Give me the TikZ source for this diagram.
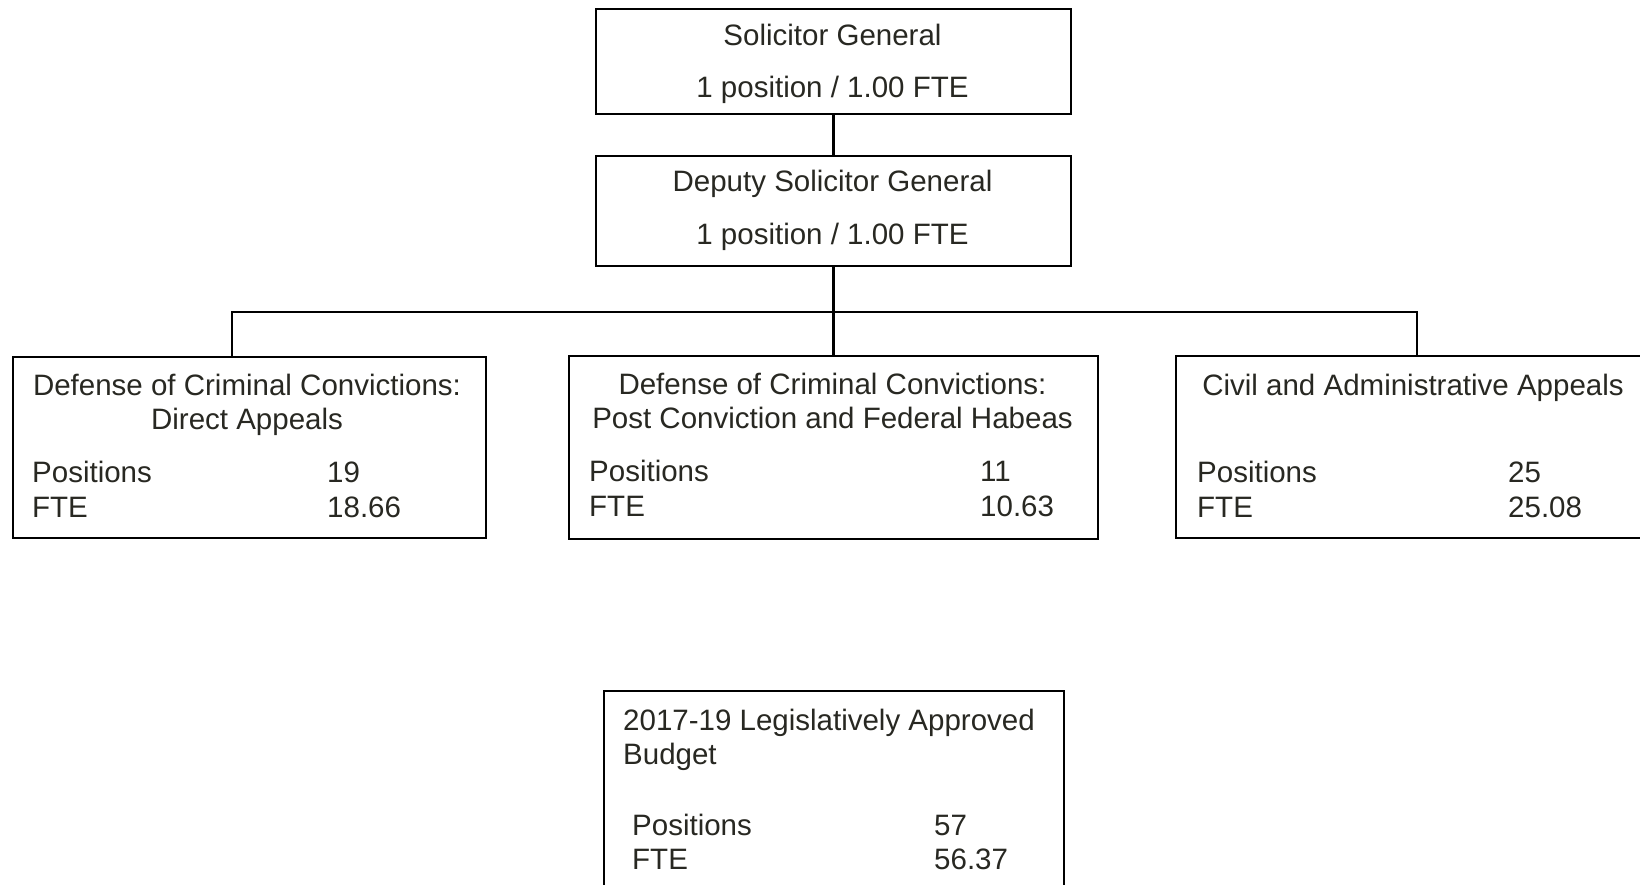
\documentclass[tikz,border=0pt]{standalone}
\usepackage{fontspec}
\setmainfont{Liberation Sans}
\definecolor{txt}{RGB}{40,40,34}
\begin{document}
\begin{tikzpicture}[x=1pt,y=-1pt,
  box/.style={draw=black,line width=1.8pt,rectangle,inner sep=0pt,anchor=north west},
  lbl/.style={inner sep=0pt,text=txt,font=\fontsize{29.5}{34}\selectfont},
  conn/.style={draw=black,line width=2.8pt}]
\useasboundingbox (0,0) rectangle (1640,885);
\fill[white] (0,0) rectangle (1640,885);
% boxes
\node[box,minimum width=475pt,minimum height=105pt] (sg) at (595,8) {};
\node[box,minimum width=475pt,minimum height=110pt] (dsg) at (595,155) {};
\node[box,minimum width=473pt,minimum height=181pt] (da) at (12,356) {};
\node[box,minimum width=529pt,minimum height=183pt] (pc) at (568,355) {};
\node[box,minimum width=475pt,minimum height=182pt] (ca) at (1175,355) {};
\node[box,minimum width=460pt,minimum height=210pt] (lab) at (603,690) {};
% texts
\node[lbl,anchor=base] (t1) at (832.5,46) {Solicitor General};
\node[lbl,anchor=base] (t2) at (832.5,98) {1 position / 1.00 FTE};
\node[lbl,anchor=base] (t3) at (832.5,192) {Deputy Solicitor General};
\node[lbl,anchor=base] (t4) at (832.5,245) {1 position / 1.00 FTE};
\node[lbl,anchor=base] (a1) at (247,395) {Defense of Criminal Convictions:};
\node[lbl,anchor=base] (a2) at (247,429) {Direct Appeals};
\node[lbl,anchor=base west] (a3) at (32,482) {Positions};
\node[lbl,anchor=base west] (a4) at (32,517) {FTE};
\node[lbl,anchor=base west] (a5) at (327,482) {19};
\node[lbl,anchor=base west] (a6) at (327,517) {18.66};
\node[lbl,anchor=base] (b1) at (832.5,394) {Defense of Criminal Convictions:};
\node[lbl,anchor=base] (b2) at (832.5,428) {Post Conviction and Federal Habeas};
\node[lbl,anchor=base west] (b3) at (589,481) {Positions};
\node[lbl,anchor=base west] (b4) at (589,516) {FTE};
\node[lbl,anchor=base west] (b5) at (980,481) {11};
\node[lbl,anchor=base west] (b6) at (980,516) {10.63};
\node[lbl,anchor=base] (c1) at (1413,395) {Civil and Administrative Appeals};
\node[lbl,anchor=base west] (c3) at (1197,482) {Positions};
\node[lbl,anchor=base west] (c4) at (1197,517) {FTE};
\node[lbl,anchor=base west] (c5) at (1508,482) {25};
\node[lbl,anchor=base west] (c6) at (1508,517) {25.08};
\node[lbl,anchor=base west] (d1) at (623,730) {2017-19 Legislatively Approved};
\node[lbl,anchor=base west] (d2) at (623,764) {Budget};
\node[lbl,anchor=base west] (d3) at (632,835) {Positions};
\node[lbl,anchor=base west] (d4) at (632,869) {FTE};
\node[lbl,anchor=base west] (d5) at (934,835) {57};
\node[lbl,anchor=base west] (d6) at (934,869) {56.37};
% connectors
\coordinate (jl) at (232,312);
\coordinate (jr) at (1417,312);
\draw[conn] (sg.south) -- (dsg.south |- sg.south) -- (dsg.north);
\draw[conn] (dsg.south) -- (pc.north);
\draw[conn] (da.north -| jl) -- (jl) -- (jr) -- (ca.north -| jr);
\end{tikzpicture}
\end{document}
